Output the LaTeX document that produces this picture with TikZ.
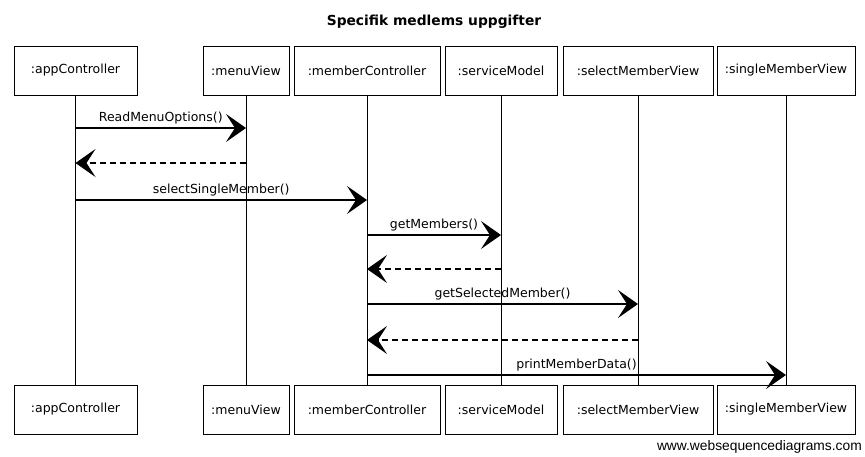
\documentclass[tikz,border=0pt]{standalone}
\usepackage{fontspec}
\setmainfont{DejaVu Sans}
\newfontfamily\footfont{Liberation Sans}
\usetikzlibrary{arrows.meta}
\begin{document}
\begin{tikzpicture}[x=1pt,y=-1pt,
  pbox/.style={draw,line width=0.8pt,minimum height=49pt,inner sep=0pt,font=\fontsize{12.5}{14}\selectfont},
  life/.style={line width=0.7pt},
  msg/.style={line width=1.1pt,-{Stealth[length=20pt,width=28pt,inset=9pt]}},
  ret/.style={msg,dashed,dash pattern=on 6pt off 4pt},
  lbl/.style={above=2pt,midway,font=\fontsize{12.5}{14}\selectfont,inner sep=1pt}]
\useasboundingbox (0,0) rectangle (865,456);
\node[font=\bfseries\fontsize{13.8}{15}\selectfont] (title) at (434,22) {Specifik medlems uppgifter};
% top boxes
\node[pbox,minimum width=123pt] (appT) at (75.5,70.5) {:appController};
\node[pbox,minimum width=86pt] (menuT) at (246,70.5) {:menuView};
\node[pbox,minimum width=146pt] (memT) at (367,70.5) {:memberController};
\node[pbox,minimum width=112pt] (servT) at (501,70.5) {:serviceModel};
\node[pbox,minimum width=150pt] (selT) at (638,70.5) {:selectMemberView};
\node[pbox,minimum width=138pt] (sinT) at (786,70.5) {:singleMemberView};
% bottom boxes
\node[pbox,minimum width=123pt] (appB) at (75.5,409.5) {:appController};
\node[pbox,minimum width=86pt] (menuB) at (246,409.5) {:menuView};
\node[pbox,minimum width=146pt] (memB) at (367,409.5) {:memberController};
\node[pbox,minimum width=112pt] (servB) at (501,409.5) {:serviceModel};
\node[pbox,minimum width=150pt] (selB) at (638,409.5) {:selectMemberView};
\node[pbox,minimum width=138pt] (sinB) at (786,409.5) {:singleMemberView};
% lifelines
\draw[life] (appT) -- (appB);
\draw[life] (menuT) -- (menuB);
\draw[life] (memT) -- (memB);
\draw[life] (servT) -- (servB);
\draw[life] (selT) -- (selB);
\draw[life] (sinT) -- (sinB);
% messages
\draw[msg] (appT.south |- 0,128) -- node[lbl] {ReadMenuOptions()} (menuT.south |- 0,128);
\draw[ret] (menuT.south |- 0,163) -- (appT.south |- 0,163);
\draw[msg] (appT.south |- 0,200) -- node[lbl] {selectSingleMember()} (memT.south |- 0,200);
\draw[msg] (memT.south |- 0,235) -- node[lbl] {getMembers()} (servT.south |- 0,235);
\draw[ret] (servT.south |- 0,269) -- (memT.south |- 0,269);
\draw[msg] (memT.south |- 0,304) -- node[lbl] {getSelectedMember()} (selT.south |- 0,304);
\draw[ret] (selT.south |- 0,340) -- (memT.south |- 0,340);
\draw[msg] (memT.south |- 0,375) -- node[lbl] {printMemberData()} (sinT.south |- 0,375);
\node[anchor=east,font=\footfont\fontsize{13.8}{15}\selectfont,inner sep=0pt] (foot) at (862,447) {www.websequencediagrams.com};
\end{tikzpicture}
\end{document}
